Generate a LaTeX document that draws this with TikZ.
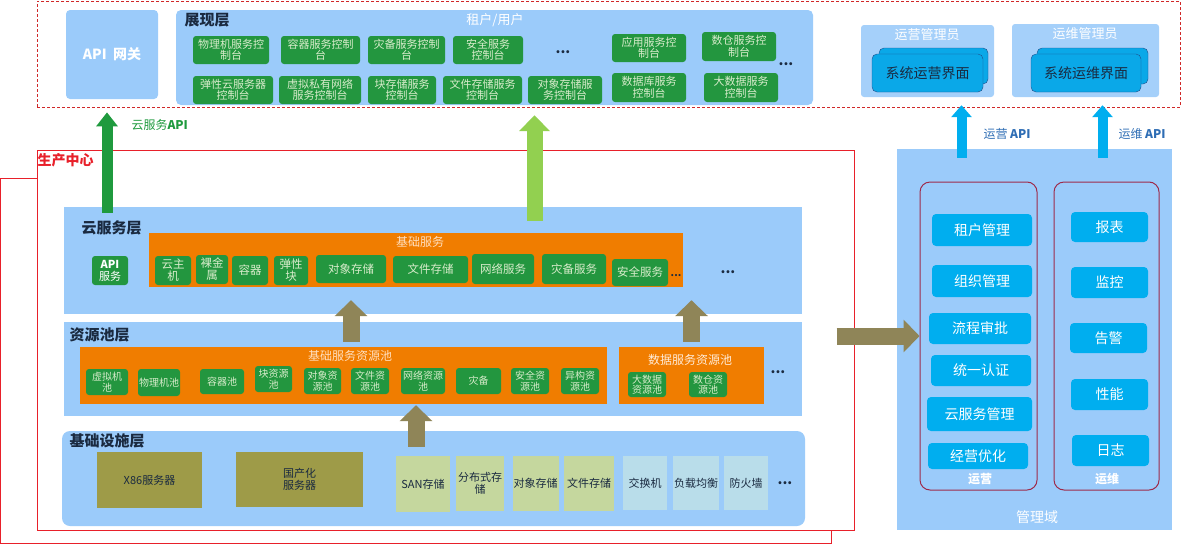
\documentclass[tikz,border=0pt]{standalone}
\usepackage{fontspec}
\setmainfont{Noto Sans CJK SC}
\usetikzlibrary{arrows.meta, positioning}
\definecolor{paneblue}{HTML}{9BCBFA}
\definecolor{consgreen}{HTML}{23963F}
\definecolor{constext}{HTML}{D8ECCB}
\definecolor{poolorange}{HTML}{F07D00}
\definecolor{mgcyan}{HTML}{00AEEF}
\definecolor{uiblue}{HTML}{0AA8E8}
\definecolor{uiedge}{HTML}{1F4E8C}
\definecolor{hwolive}{HTML}{9E9B48}
\definecolor{storolive}{HTML}{C5D79E}
\definecolor{netcyan}{HTML}{B9DDEA}
\definecolor{arrolive}{HTML}{8F8558}
\definecolor{arrgreen}{HTML}{1F9A3E}
\definecolor{arrlime}{HTML}{92D050}
\definecolor{grpred}{HTML}{9E2A4A}
\definecolor{prodred}{HTML}{E8202A}
\definecolor{dashred}{HTML}{D02828}
\definecolor{apiblue}{HTML}{2E6DB4}
\definecolor{inktext}{HTML}{1A2A40}
\tikzset{
  panel/.style={fill=paneblue},
  frame/.style={draw=dashred, densely dashed, thick},
  pframe/.style={draw=prodred, line width=1pt},
  title/.style={anchor=west, text=inktext, font=\fontsize{15}{16}\selectfont\bfseries},
  wtext/.style={text=white, font=\fontsize{13}{14}\selectfont},
  cons/.style={fill=consgreen, rounded corners=3pt, text=constext, align=center, inner sep=1pt,
    font=\fontsize{11}{11.5}\selectfont},
  item/.style={cons, font=\fontsize{11.5}{12}\selectfont},
  poolitem/.style={cons, font=\fontsize{10}{10.5}\selectfont},
  pool/.style={fill=poolorange},
  pooltitle/.style={text=orange!25, font=\fontsize{12}{13}\selectfont},
  ui/.style={fill=uiblue, draw=uiedge, rounded corners=5pt, text=inktext, font=\fontsize{14}{15}\selectfont},
  grp/.style={draw=grpred, line width=1pt, rounded corners=10pt},
  mitem/.style={fill=mgcyan, rounded corners=4pt, text=white, font=\fontsize{14}{15}\selectfont},
  hw/.style={fill=hwolive, text=inktext, align=center, font=\fontsize{11}{12}\selectfont},
  stor/.style={fill=storolive, text=inktext, align=center, inner sep=1pt, font=\fontsize{11}{12}\selectfont},
  net/.style={stor, fill=netcyan},
  dots/.style={text=inktext, font=\fontsize{14}{14}\selectfont\bfseries},
  olarrow/.style={arrolive, line width=17pt, -{Triangle[length=16pt, width=32pt]}},
  garrow/.style={arrgreen, line width=11pt, -{Triangle[length=14pt, width=21pt]}},
  larrow/.style={arrlime, line width=16pt, -{Triangle[length=16pt, width=30pt]}},
  carrow/.style={mgcyan, line width=10pt, -{Triangle[length=12pt, width=20pt]}},
}
% box from its corners (x1,y1) to (x2,y2), in pixels
\newcommand{\cell}[7]{%
  \node[#1, minimum width={(#5-#3)*1pt}, minimum height={(#6-#4)*1pt}]
    (#2) at ({(#3+#5)/2},{(#4+#6)/2}) {#7};}

\begin{document}
\begin{tikzpicture}[x=1pt, y=-1pt]
  \useasboundingbox (0,0) rectangle (1182,544);

  % portal
  \cell{frame}{portal}{37}{1}{1180}{107}{}
  \cell{panel, rounded corners=4pt, text=white, font=\fontsize{14}{15}\selectfont\bfseries}{gate}{66}{10}{158}{99}{API\ \ 网关}
  \cell{panel, rounded corners=5pt}{show}{176}{10}{813}{105}{}
  \node[title] (showt) at (181,20) {展现层};
  \node[wtext] (user) at (495,20) {租户/用户};
  \cell{cons}{c1}{193}{36}{269}{64}{物理机服务控\\制台}
  \cell{cons}{c2}{281}{36}{360}{64}{容器服务控制\\台}
  \cell{cons}{c3}{368}{36}{445}{64}{灾备服务控制\\台}
  \cell{cons}{c4}{453}{36}{523}{64}{安全服务\\控制台}
  \node[dots] (d1) at (563,52) {...};
  \cell{cons}{c5}{612}{34}{686}{62}{应用服务控\\制台}
  \cell{cons}{c6}{702}{32}{776}{61}{数仓服务控\\制台}
  \node[dots] (d2) at (786,64) {...};
  \cell{cons}{c7}{193}{76}{273}{104}{弹性云服务器\\控制台}
  \cell{cons}{c8}{279}{76}{361}{104}{虚拟私有网络\\服务控制台}
  \cell{cons}{c9}{368}{76}{436}{104}{块存储服务\\控制台}
  \cell{cons}{c10}{443}{76}{522}{104}{文件存储服务\\控制台}
  \cell{cons}{c11}{528}{76}{602}{104}{对象存储服\\务控制台}
  \cell{cons}{c12}{612}{73}{686}{102}{数据库服务\\控制台}
  \cell{cons}{c13}{704}{73}{778}{102}{大数据服务\\控制台}

  % admins
  \cell{panel, fill=paneblue!90!white, rounded corners=3pt}{opsadm}{861}{25}{994}{97}{}
  \node[wtext] (opsadmt) at (927,35) {运营管理员};
  \cell{ui}{opsuib}{879}{48}{988}{84}{}
  \cell{ui}{opsui}{872}{54}{983}{92}{系统运营界面}
  \cell{panel, fill=paneblue!90!white, rounded corners=3pt}{omadm}{1012}{24}{1159}{97}{}
  \node[wtext] (omadmt) at (1085,34) {运维管理员};
  \cell{ui}{omuib}{1037}{48}{1148}{84}{}
  \cell{ui}{omui}{1031}{54}{1141}{92}{系统运维界面}

  % management domain
  \cell{panel}{mgmt}{897}{149}{1172}{530}{}
  \node[wtext, font=\fontsize{14}{15}\selectfont] (mgmtt) at (1037,517) {管理域};
  \cell{grp}{opsgrp}{920}{182}{1037}{490}{}
  \cell{grp}{omgrp}{1054}{182}{1159}{490}{}
  \node[wtext, font=\fontsize{12}{13}\selectfont\bfseries] (opsgrpt) at (980,479) {运营};
  \node[wtext, font=\fontsize{12}{13}\selectfont\bfseries] (omgrpt) at (1107,479) {运维};
  \cell{mitem}{tenant}{932}{214}{1032}{246}{租户管理}
  \cell{mitem}{org}{932}{265}{1032}{297}{组织管理}
  \cell{mitem}{flow}{929}{313}{1031}{344}{流程审批}
  \cell{mitem}{auth}{931}{355}{1031}{386}{统一认证}
  \cell{mitem}{csm}{927}{397}{1032}{431}{云服务管理}
  \cell{mitem}{bizopt}{928}{443}{1028}{469}{经营优化}
  \cell{mitem}{report}{1071}{212}{1148}{242}{报表}
  \cell{mitem}{monitor}{1071}{267}{1148}{298}{监控}
  \cell{mitem}{alarm}{1070}{323}{1147}{353}{告警}
  \cell{mitem}{perf}{1071}{379}{1148}{410}{性能}
  \cell{mitem}{logs}{1072}{435}{1149}{466}{日志}

  \draw[carrow] ([xshift=34pt, yshift=-9pt]mgmt.north -| opsadm.south) -- ([xshift=34pt, yshift=-8pt]opsadm.south);
  \draw[carrow] ([xshift=17pt, yshift=-9pt]mgmt.north -| omadm.south) -- ([xshift=17pt, yshift=-8pt]omadm.south);
  \node[anchor=west, text=apiblue, font=\fontsize{12}{13}\selectfont] (opsapi) at (980,134) {运营 \textbf{API}};
  \node[anchor=west, text=apiblue, font=\fontsize{12}{13}\selectfont] (omapi) at (1115,134) {运维 \textbf{API}};

  % production centre
  \cell{pframe}{prodb}{0}{178}{831}{543}{}
  \cell{pframe, fill=white}{prod}{37}{150}{854}{530}{}
  \node[anchor=west, text=prodred, font=\fontsize{14}{15}\selectfont\bfseries] (prodt) at (34,160) {生产中心};

  % cloud service layer
  \cell{panel}{cloud}{64}{207}{802}{314}{}
  \node[title] (cloudt) at (78,228) {云服务层};
  \cell{cons, text=white, font=\fontsize{11}{12}\selectfont}{apisvc}{92}{256}{128}{285}{\textbf{API}\\服务}
  \cell{pool}{basic}{149}{233}{683}{287}{}
  \node[pooltitle] (basict) at (420,242) {基础服务};
  \cell{item}{vm}{155}{256}{191}{285}{云主\\机}
  \cell{item}{bm}{196}{255}{228}{284}{裸金\\属}
  \cell{item}{ctr}{232}{256}{268}{285}{容器}
  \cell{item}{blk}{274}{256}{308}{285}{弹性\\块}
  \cell{item}{objsvc}{316}{255}{386}{283}{对象存储}
  \cell{item}{filesvc}{393}{256}{468}{283}{文件存储}
  \cell{item}{netsvc}{472}{254}{534}{284}{网络服务}
  \cell{item}{drsvc}{542}{254}{606}{284}{灾备服务}
  \cell{item}{secsvc}{612}{259}{668}{286}{安全服务}
  \node[dots, font=\fontsize{10}{10}\selectfont\bfseries] (d3) at (676,276) {...};
  \node[dots] (d4) at (728,272) {...};

  % resource pool layer
  \cell{panel}{res}{64}{322}{802}{416}{}
  \node[title] (rest) at (66,335) {资源池层};
  \cell{pool}{bpool}{80}{347}{607}{404}{}
  \node[pooltitle] (bpoolt) at (350,356) {基础服务资源池};
  \cell{poolitem}{vmpool}{86}{369}{128}{395}{虚拟机\\池}
  \cell{poolitem}{bmpool}{139}{369}{179}{396}{物理机池}
  \cell{poolitem}{ctrpool}{200}{369}{244}{394}{容器池}
  \cell{poolitem}{blkpool}{255}{366}{292}{392}{块资源\\池}
  \cell{poolitem}{objpool}{304}{368}{341}{394}{对象资\\源池}
  \cell{poolitem}{filepool}{351}{368}{389}{394}{文件资\\源池}
  \cell{poolitem}{netpool}{401}{368}{445}{394}{网络资源\\池}
  \cell{poolitem}{drpool}{456}{368}{501}{394}{灾备}
  \cell{poolitem}{secpool}{511}{368}{549}{394}{安全资\\源池}
  \cell{poolitem}{hetpool}{561}{368}{599}{394}{异构资\\源池}
  \cell{pool}{dpool}{619}{347}{764}{404}{}
  \node[pooltitle, text=orange!15] (dpoolt) at (690,360) {数据服务资源池};
  \cell{poolitem}{bdpool}{628}{372}{666}{397}{大数据\\资源池}
  \cell{poolitem}{dwpool}{689}{372}{727}{397}{数仓资\\源池}
  \node[dots] (d5) at (778,372) {...};

  % infrastructure layer
  \cell{panel, rounded corners=8pt}{infra}{62}{431}{805}{526}{}
  \node[title] (infrat) at (66,441) {基础设施层};
  \cell{hw}{x86}{97}{452}{202}{508}{X86服务器}
  \cell{hw}{local}{236}{452}{363}{507}{国产化\\服务器}
  \cell{stor}{san}{396}{456}{450}{512}{SAN存储}
  \cell{stor}{dist}{456}{456}{504}{511}{分布式存\\储}
  \cell{stor}{objstor}{513}{456}{558}{511}{对象存储}
  \cell{stor}{filestor}{564}{456}{614}{511}{文件存储}
  \cell{net}{switch}{623}{456}{667}{510}{交换机}
  \cell{net}{lb}{674}{456}{718}{510}{负载均衡}
  \cell{net}{fw}{724}{456}{768}{510}{防火墙}
  \node[dots] (d6) at (785,483) {...};

  % flows
  \draw[olarrow] ([yshift=5pt]bpool.north -| objsvc) -- ([yshift=14pt]cloud.south -| objsvc);
  \draw[olarrow] ([yshift=5pt]dpool.north) -- ([yshift=14pt]cloud.south -| dpool.north);
  \draw[olarrow] ([xshift=-7pt, yshift=-16pt]infra.north -| netpool) -- ([xshift=-7pt, yshift=-1pt]netpool.south |- bpool.south);
  \draw[olarrow] ([xshift=-18pt, yshift=33pt]prod.east |- res.east) -- ([yshift=33pt]res.east -| opsgrp.west);
  \draw[garrow] ([xshift=-3pt, yshift=-6pt]cloud.north -| apisvc) -- ([xshift=-3pt, yshift=-5pt]portal.south -| apisvc);
  \draw[larrow] ([xshift=40pt, yshift=-14pt]cloud.north -| show.south) -- ([xshift=40pt, yshift=-10pt]show.south);
  \node[anchor=west, text=arrgreen, font=\fontsize{12}{13}\selectfont] (cloudapi) at (128,125) {云服务\textbf{API}};
\end{tikzpicture}
\end{document}
